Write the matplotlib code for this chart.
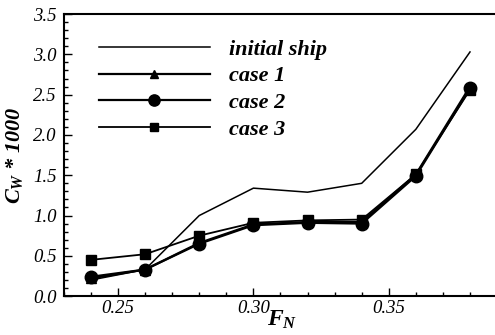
import numpy as np
import matplotlib.pyplot as plt

fn = [0.24, 0.26, 0.28, 0.30, 0.32, 0.34, 0.36, 0.38]
initial_ship = [0.20, 0.33, 1.00, 1.34, 1.29, 1.40, 2.07, 3.03]
case1 = [0.22, 0.33, 0.66, 0.89, 0.92, 0.92, 1.51, 2.60]
case2 = [0.24, 0.33, 0.65, 0.88, 0.91, 0.90, 1.49, 2.58]
case3 = [0.45, 0.52, 0.75, 0.91, 0.94, 0.95, 1.51, 2.56]

yticks = [0.0, 0.5, 1.0, 1.5, 2.0, 2.5, 3.0, 3.5]
xticks = [0.25, 0.30, 0.35]

plt.rcParams['font.family'] = 'Liberation Serif'
plt.rcParams['mathtext.fontset'] = 'custom'
plt.rcParams['mathtext.it'] = 'Liberation Serif:italic:bold'
plt.rcParams['mathtext.rm'] = 'Liberation Serif:italic:bold'

fig = plt.figure(figsize=(4.95, 3.35), dpi=100)
ax = fig.add_axes([0.129, 0.116, 0.873, 0.842])

ax.plot(fn, initial_ship, color='black', lw=1.1, label='initial ship')
ax.plot(fn, case1, color='black', lw=1.6, marker='^', ms=6.5, label='case 1')
ax.plot(fn, case2, color='black', lw=1.6, marker='o', ms=9, label='case 2')
ax.plot(fn, case3, color='black', lw=1.3, marker='s', ms=6.5, label='case 3')

ax.set_xlim(0.23, 0.3896)
ax.set_ylim(0.0, 3.5)
ax.set_xticks(xticks)
ax.set_xticklabels([f'{t:.2f}' for t in xticks], fontstyle='italic')
ax.set_yticks(yticks)
ax.set_yticklabels([f'{t:.1f}' for t in yticks], fontstyle='italic')
ax.set_xticks(np.arange(0.23, 0.39, 0.01), minor=True)
ax.set_yticks(np.arange(0.0, 3.5, 0.1), minor=True)
ax.tick_params(which='both', direction='in', labelsize=13.5, width=1.0)
ax.tick_params(which='major', length=6)
ax.tick_params(which='minor', length=3)
ax.tick_params(axis='y', pad=5)
ax.tick_params(axis='x', pad=3)

ax.spines['right'].set_visible(False)
for s in ['left', 'bottom', 'top']:
    ax.spines[s].set_linewidth(1.5)

ax.set_xlabel(r'$F_N$', fontsize=17)
ax.xaxis.set_label_coords(0.505, -0.045)
ax.xaxis.label.set_va('top')
ax.set_ylabel(r'$C_W$ * 1000', fontsize=16, fontweight='bold', fontstyle='italic')
ax.yaxis.set_label_coords(-0.09, 0.5)

leg = ax.legend(loc='upper left', bbox_to_anchor=(0.055, 0.95), frameon=False,
                numpoints=1, handlelength=5.0, handletextpad=0.85,
                labelspacing=0.27, borderpad=0, markerscale=0.9,
                prop={'size': 16, 'weight': 'bold', 'style': 'italic'})

fig.savefig('out.png', dpi=100)
